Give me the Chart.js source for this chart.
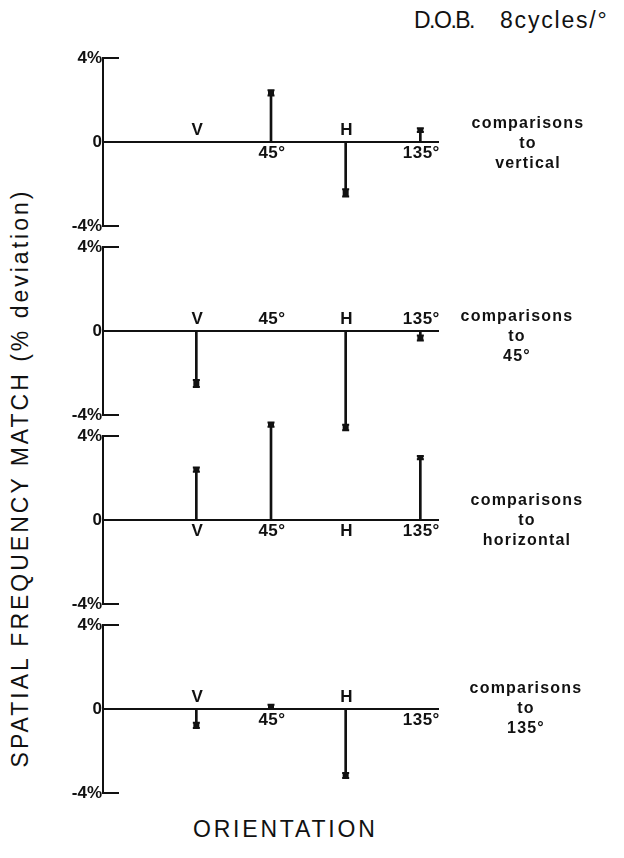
<!DOCTYPE html>
<html><head><meta charset="utf-8">
<script src="https://cdn.jsdelivr.net/npm/chart.js@4.4.1/dist/chart.umd.min.js"></script>
<style>
html,body{margin:0;padding:0;background:#fff;width:624px;height:858px;overflow:hidden;position:relative;font-family:'Liberation Sans',Arial,sans-serif;color:#111;}
canvas.pc{position:absolute;left:0;}
.txt{position:absolute;color:#111;white-space:pre;}
.cmp{position:absolute;width:160px;text-align:center;font-weight:bold;font-size:16px;line-height:20px;letter-spacing:1.2px;color:#111;}
</style></head><body>

<div class="txt" id="title" style="left:414px;top:7px;font-size:23px;"><span style="letter-spacing:-1.5px;">D.O.B.</span><span style="display:inline-block;width:26px;"></span><span style="letter-spacing:1.8px;">8cycles/°</span></div>
<div class="txt" id="ytitle" style="left:20px;top:478px;font-size:23px;letter-spacing:3px;transform:translate(-50%,-50%) rotate(-90deg);">SPATIAL FREQUENCY MATCH (% deviation)</div>
<div class="txt" id="xtitle" style="left:193px;top:816px;font-size:23px;letter-spacing:2.8px;">ORIENTATION</div>

<script>
// ---- data ----
const orientations = ['V', '45°', 'H', '135°'];
const comparisonTargets = ['vertical', '45°', 'horizontal', '135°'];
// mean % deviation for each orientation (null = the reference orientation)
const toVertical   = [null, 2.34, -2.42, 0.57];
const to45         = [-2.50, null, -4.60, -0.33];
const toHorizontal = [2.40, 4.54, null, 2.97];
const to135        = [-0.78, 0.10, -3.17, null];
// error (half-range of the I-beam)
const errVertical   = [null, 0.12, 0.17, 0.09];
const err45         = [0.17, null, 0.13, 0.12];
const errHorizontal = [0.10, 0.10, null, 0.08];
const err135        = [0.13, 0.10, 0.12, null];
const yTicks = [-4, 0, 4];

const panelMeans = [toVertical, to45, toHorizontal, to135];
const panelErrs = [errVertical, err45, errHorizontal, err135];

// ---- layout ----
const panelTop = [58, 247, 436, 625];
const panelH = 168;
const pad = 40;
const axisX = 103;
const plotRight = 439;
const refSide = ['above', 'above', 'below', 'below'];
const cmpPos = [{x: 448, y: 113}, {x: 437, y: 306}, {x: 447, y: 490}, {x: 446, y: 678}];
const FONT = "'Liberation Sans', Arial, sans-serif";

const panelPlugin = {
  id: 'panelDeco',
  afterDatasetsDraw(chart, args, opts) {
    const ctx = chart.ctx;
    const ys = chart.scales.y, xs = chart.scales.x;
    const area = chart.chartArea;
    ctx.save();
    ctx.strokeStyle = '#111';
    ctx.fillStyle = '#111';
    ctx.lineWidth = 2;
    // inward ticks at +-4
    [yTicks[0], yTicks[yTicks.length - 1]].forEach(v => {
      const y = ys.getPixelForValue(v);
      ctx.beginPath();
      ctx.moveTo(area.left - 1, y);
      ctx.lineTo(area.left + 16, y);
      ctx.stroke();
    });
    // error bars
    const means = opts.means, errs = opts.errs;
    means.forEach((m, i) => {
      if (m === null) return;
      const x = xs.getPixelForValue(i + 1);
      const yHi = ys.getPixelForValue(m + errs[i]);
      const yLo = ys.getPixelForValue(m - errs[i]);
      ctx.beginPath();
      ctx.moveTo(x, yHi); ctx.lineTo(x, yLo);
      ctx.moveTo(x - 3.5, yHi); ctx.lineTo(x + 3.5, yHi);
      ctx.moveTo(x - 3.5, yLo); ctx.lineTo(x + 3.5, yLo);
      ctx.stroke();
      ctx.lineWidth = 3;
      ctx.beginPath();
      ctx.moveTo(x - 1.5, yHi); ctx.lineTo(x - 1.5, yLo);
      ctx.moveTo(x + 1.5, yHi); ctx.lineTo(x + 1.5, yLo);
      ctx.stroke();
      ctx.lineWidth = 2;
    });
    // orientation labels along the zero line
    const y0 = ys.getPixelForValue(0);
    ctx.font = 'bold 17px ' + FONT;
    ctx.textAlign = 'center';
    ctx.textBaseline = 'middle';
    try { ctx.letterSpacing = '0.5px'; } catch (e) {}
    orientations.forEach((lab, i) => {
      const m = means[i];
      let side = m === null ? opts.ref : (m > 0 ? 'below' : 'above');
      const x = xs.getPixelForValue(i + 1) + 1;
      const y = side === 'above' ? y0 - 12 : y0 + 11;
      ctx.fillText(lab, x, y);
    });
    ctx.restore();
  }
};

panelMeans.forEach((means, p) => {
  const cv = document.createElement('canvas');
  cv.className = 'pc';
  cv.width = 624;
  cv.height = panelH + 2 * pad;
  cv.style.top = (panelTop[p] - pad) + 'px';
  cv.style.width = '624px';
  cv.style.height = (panelH + 2 * pad) + 'px';
  document.body.appendChild(cv);

  const pts = [];
  means.forEach((m, i) => { if (m !== null) pts.push({x: i + 1, y: m}); });

  new Chart(cv.getContext('2d'), {
    type: 'bar',
    data: {
      datasets: [{
        data: pts,
        backgroundColor: '#111',
        borderWidth: 0,
        barThickness: 2,
        clip: false
      }]
    },
    options: {
      responsive: false,
      animation: false,
      devicePixelRatio: 1,
      layout: {padding: {left: 0, right: 624 - plotRight, top: pad, bottom: pad}},
      plugins: {
        legend: {display: false},
        tooltip: {enabled: false},
        panelDeco: {means: means, errs: panelErrs[p], ref: refSide[p]}
      },
      scales: {
        x: {type: 'linear', min: 0, max: 4, display: false},
        y: {
          min: -4, max: 4,
          afterBuildTicks: s => { s.ticks = yTicks.map(v => ({value: v})); },
          afterFit: s => { s.width = axisX; },
          ticks: {
            callback: v => v === 0 ? '0' : v + '%',
            color: '#111',
            font: {family: FONT, size: 17, weight: 'bold'},
            padding: 1
          },
          grid: {
            drawTicks: false,
            drawOnChartArea: true,
            color: c => (c.tick && c.tick.value === 0) ? '#111' : 'rgba(0,0,0,0)',
            lineWidth: 2
          },
          border: {display: true, color: '#111', width: 2}
        }
      }
    },
    plugins: [panelPlugin]
  });

  const d = document.createElement('div');
  d.className = 'cmp';
  d.style.left = cmpPos[p].x + 'px';
  d.style.top = cmpPos[p].y + 'px';
  d.textContent = 'comparisons\nto\n' + comparisonTargets[p];
  d.style.whiteSpace = 'pre';
  document.body.appendChild(d);
});
</script>
</body></html>
